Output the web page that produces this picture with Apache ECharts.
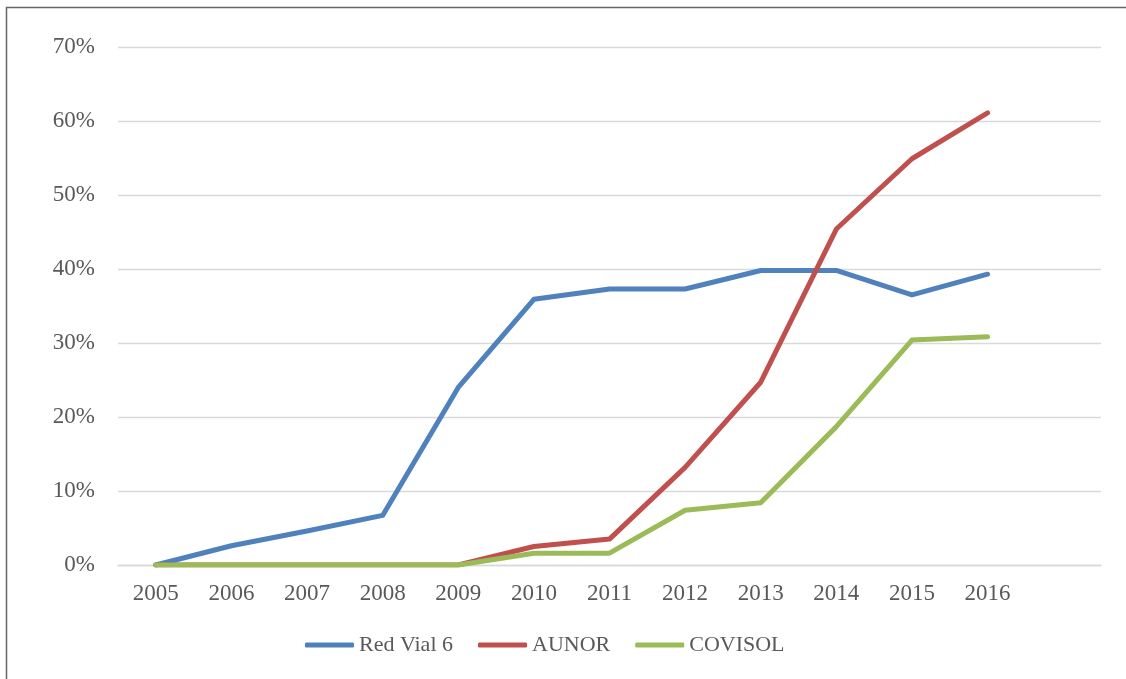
<!DOCTYPE html>
<html>
<head>
<meta charset="utf-8">
<script src="https://cdn.jsdelivr.net/npm/echarts@6/dist/echarts.min.js"></script>
<style>
html,body{margin:0;padding:0;background:#fff;}
#c{width:1126px;height:679px;}
</style>
</head>
<body>
<div id="c"></div>
<script>
const years = ['2005','2006','2007','2008','2009','2010','2011','2012','2013','2014','2015','2016',''];
const redVial6 = [0, 2.6, 4.6, 6.7, 24.0, 35.9, 37.3, 37.3, 39.8, 39.8, 36.5, 39.3];
const aunor = [0, 0, 0, 0, 0, 2.5, 3.5, 13.2, 24.7, 45.4, 54.9, 61.1];
const covisol = [0, 0, 0, 0, 0, 1.6, 1.6, 7.4, 8.4, 18.7, 30.4, 30.85];
const seriesNames = ['Red Vial 6', 'AUNOR', 'COVISOL'];
const colors = ['#4F81BD', '#C0504D', '#9BBB59'];

const font = "'Liberation Serif', 'Times New Roman', serif";
const chart = echarts.init(document.getElementById('c'), null, {renderer: 'canvas'});
const mk = (name, data, color) => ({
  name: name,
  type: 'line',
  data: data,
  symbol: 'none',
  showSymbol: false,
  color: color,
  lineStyle: {width: 5, color: color, cap: 'round', join: 'round'},
  itemStyle: {color: color},
  animation: false
});
chart.setOption({
  animation: false,
  backgroundColor: '#fff',
  graphic: [{
    type: 'rect',
    shape: {x: 6.5, y: 7.5, width: 1140, height: 700},
    style: {fill: 'none', stroke: '#666666', lineWidth: 1.5},
    silent: true
  }],
  grid: {left: 118, right: 25, top: 47, bottom: 114, containLabel: false},
  legend: {
    left: 305,
    top: 634,
    padding: 0,
    itemWidth: 49,
    itemHeight: 5,
    itemGap: 25,
    icon: 'roundRect',
    textStyle: {fontFamily: font, fontSize: 22, color: '#595959'},
    data: seriesNames
  },
  xAxis: {
    type: 'category',
    data: years,
    boundaryGap: true,
    axisLine: {show: true, lineStyle: {color: '#d9d9d9', width: 1.3}},
    axisTick: {show: false},
    axisLabel: {fontFamily: font, fontSize: 23, color: '#595959', margin: 17, interval: 0}
  },
  yAxis: {
    type: 'value',
    min: 0,
    max: 70,
    interval: 10,
    axisLine: {show: false},
    axisTick: {show: false},
    splitLine: {lineStyle: {color: '#d9d9d9', width: 1.3}},
    axisLabel: {fontFamily: font, fontSize: 23, color: '#595959', margin: 23, formatter: '{value}%'}
  },
  series: [
    mk(seriesNames[0], redVial6, colors[0]),
    mk(seriesNames[1], aunor, colors[1]),
    mk(seriesNames[2], covisol, colors[2])
  ]
});
</script>
</body>
</html>
